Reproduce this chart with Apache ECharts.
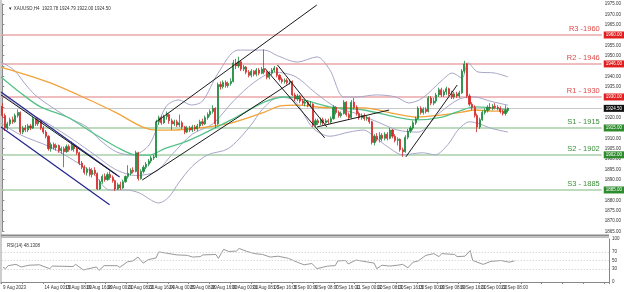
<!DOCTYPE html>
<html><head><meta charset="utf-8">
<script src="https://cdn.jsdelivr.net/npm/echarts@6/dist/echarts.min.js"></script>
<style>html,body{margin:0;padding:0;background:#fff}#c{width:624px;height:292px}</style>
</head><body><div id="c"></div>
<script>
const N_CATS = 234;
const tickLabels = ["9 Aug 2023","10 Aug 16:00","14 Aug 00:00","15 Aug 08:00","16 Aug 16:00","18 Aug 00:00","21 Aug 08:00","22 Aug 16:00","24 Aug 00:00","25 Aug 08:00","28 Aug 16:00","30 Aug 00:00","31 Aug 08:00","1 Sep 16:00","5 Sep 00:00","6 Sep 08:00","7 Sep 16:00","11 Sep 00:00","12 Sep 08:00","13 Sep 16:00","15 Sep 00:00","18 Sep 08:00","19 Sep 16:00","21 Sep 00:00","22 Sep 08:00"];
// [open, close, low, high]
const candles = [
[1925.5,1921,1920,1927],[1921,1915,1913.5,1922],[1915,1917,1914,1918],[1917,1919,1916,1920],[1919,1918,1917,1920.5],
[1918,1921,1917.5,1922],[1921,1922.5,1920,1924],[1922.5,1913,1912,1923],[1913,1915,1912,1916],[1915,1914,1913,1916.5],
[1914,1916,1913,1917],[1916,1915,1914,1917],[1915,1919.5,1914.5,1920.5],[1919.5,1917,1916,1920],[1917,1918.5,1916,1919.5],
[1918.5,1915,1914,1919],[1915,1913,1912,1916],[1913,1911,1910,1914],[1911,1905,1904,1911.5],[1905,1907,1903.5,1908],
[1907,1905.5,1904.5,1908],[1905.5,1906.5,1904,1907.5],[1906.5,1904,1903,1907],[1904,1905,1902.5,1906],[1905,1903.5,1896,1906],
[1903.5,1906,1903,1907],[1906,1904.5,1903.5,1907],[1904.5,1906.5,1904,1908.5],[1906.5,1905,1903.5,1907.5],[1905,1903,1902,1906],
[1903,1898,1897,1903.5],[1898,1896,1895,1899],[1896,1893.5,1892.5,1897],[1893.5,1895,1892,1896],[1895,1892.5,1891.5,1896],
[1892.5,1894.5,1891,1895.5],[1894.5,1893,1892,1896],[1893,1885.5,1885,1893.5],[1885.5,1889,1885,1890],[1889,1891.5,1888,1892.5],
[1891.5,1890,1889,1893],[1890,1892.5,1889.5,1893.5],[1892.5,1891,1890,1894],[1891,1889.5,1888.5,1892],[1889.5,1885.5,1884.5,1890],
[1885.5,1887.5,1885,1888.5],[1887.5,1886,1885,1889],[1886,1889,1885.5,1890],[1889,1891.5,1888.5,1892],[1891.5,1893,1890.5,1897],
[1893,1894.5,1892,1895.5],[1894.5,1894,1893,1896],[1894,1903,1893.5,1904],[1903,1890.5,1889.5,1903.5],[1890.5,1894,1890,1895],
[1894,1896,1893,1897],[1896,1897.5,1895,1898.5],[1897.5,1899,1896.5,1900],[1899,1900.5,1898,1901.5],[1900.5,1901,1899.5,1902],
[1901,1918,1900.5,1919],[1918,1920,1916.5,1921],[1920,1917.5,1916.5,1921],[1917.5,1920.5,1917,1921.5],[1920.5,1921.5,1919,1923],
[1921.5,1918.5,1917,1922],[1918.5,1917,1914,1919.5],[1917,1918,1916,1919],[1918,1916.5,1915.5,1919],[1916.5,1917.5,1915.5,1921.5],
[1917.5,1915.5,1914.5,1918.5],[1915.5,1913,1912,1916],[1913,1915,1912.5,1916],[1915,1914,1913,1916],[1914,1915.5,1913,1916.5],
[1915.5,1914.5,1913.5,1916.5],[1914.5,1916,1913.5,1917],[1916,1918,1915,1919],[1918,1917,1916,1919.5],[1917,1920,1916.5,1921],
[1920,1921.5,1919,1922.5],[1921.5,1923,1920.5,1924],[1923,1924.5,1922,1926],[1924.5,1917,1915,1925],[1917,1936,1916.5,1937],
[1936,1935,1933.5,1937.5],[1935,1937,1934,1938],[1937,1935.5,1934.5,1938],[1935.5,1936.5,1934.5,1937.5],[1936.5,1937.5,1935.5,1939],
[1937.5,1946.5,1937,1948],[1946.5,1945,1943.5,1948.5],[1945,1947,1944,1949.5],[1947,1943.5,1942.5,1947.5],[1943.5,1944.5,1942.5,1945.5],
[1944.5,1942,1941,1945],[1942,1940.5,1939.5,1943],[1940.5,1942.5,1939.5,1943.5],[1942.5,1941,1940,1943],[1941,1943,1940,1944],
[1943,1941.5,1940.5,1944],[1941.5,1943.5,1941,1944.5],[1943.5,1942,1941,1953],[1942,1939.5,1938.5,1942.5],[1939.5,1941.5,1938.5,1942.5],
[1941.5,1943,1940.5,1944],[1943,1944,1942,1945],[1944,1940.5,1939.5,1944.5],[1940.5,1938.5,1937.5,1941],[1938.5,1937.5,1936.5,1939.5],
[1937.5,1938,1936.5,1939],[1938,1937,1936,1939],[1937,1937.5,1936,1938.5],[1937.5,1931,1930.5,1938],[1931,1929,1928,1932],
[1929,1930.5,1928,1931.5],[1930.5,1928,1927,1931],[1928,1927,1926,1929],[1927,1927.5,1925.5,1928.5],[1927.5,1926,1925,1928.5],
[1926,1926.5,1925,1928],[1926.5,1916.5,1915.5,1927],[1916.5,1918.5,1915.5,1919.5],[1918.5,1917.5,1916.5,1919.5],[1917.5,1919,1916.5,1920],
[1919,1917.5,1916.5,1920],[1917.5,1918.5,1917,1919.5],[1918.5,1918,1917,1919.5],[1918,1919.5,1917,1920.5],[1919.5,1925,1919,1926],
[1925,1922.5,1921.5,1925.5],[1922.5,1921,1920,1923.5],[1921,1922,1920,1923],[1922,1927.5,1921.5,1928.5],[1927.5,1921.5,1920.5,1928],
[1921.5,1920,1919,1922.5],[1920,1927.5,1919.5,1928.5],[1927.5,1925,1924,1929.5],[1925,1922,1921,1926],[1922,1920,1919,1923],
[1920,1921,1919,1922],[1921,1919.5,1918.5,1922],[1919.5,1920,1918.5,1921],[1920,1918,1917,1920.5],[1918,1908,1907,1918.5],
[1908,1911,1906.5,1912],[1911,1909.5,1908.5,1912.5],[1909.5,1911.5,1908,1913],[1911.5,1910,1908.5,1912.5],[1910,1912,1909,1913],
[1912,1910,1909,1913],[1910,1914,1909.5,1915],[1914,1911,1910,1914.5],[1911,1909,1908,1912],[1909,1909.5,1906.5,1910.5],
[1909.5,1904.5,1903.5,1910],[1904.5,1903.5,1901,1905.5],[1903.5,1910.5,1903,1911.5],[1910.5,1913.5,1909.5,1914.5],[1913.5,1915,1912.5,1916],
[1915,1917.5,1914,1918.5],[1917.5,1919.5,1916.5,1920.5],[1919.5,1924.5,1919,1925.5],[1924.5,1922.5,1921.5,1925.5],[1922.5,1924,1921.5,1925],
[1924,1923,1922,1925],[1923,1929.5,1922.5,1930.5],[1929.5,1927,1926,1930.5],[1927,1928,1926,1929.5],[1928,1931,1927,1932],
[1931,1933.5,1930,1934.5],[1933.5,1931,1930,1934.5],[1931,1932.5,1930,1933.5],[1932.5,1934,1931,1935],[1934,1931.5,1930.5,1934.5],
[1931.5,1930,1929,1933],[1930,1931.5,1929,1932.5],[1931.5,1930.5,1929.5,1932.5],[1930.5,1932,1929.5,1933],[1932,1942.5,1931.5,1943.5],
[1942.5,1946,1941.5,1947.5],[1946,1930.5,1929.5,1946.5],[1930.5,1926.5,1925.5,1931.5],[1926.5,1925,1923.5,1927.5],[1925,1921,1920,1926],
[1921,1915.5,1913,1922],[1915.5,1919,1914.5,1920],[1919,1922.5,1918.5,1923.5],[1922.5,1923.5,1921.5,1924.5],[1923.5,1925,1922.5,1926],
[1925,1924.5,1923.5,1927],[1924.5,1925.5,1923.5,1926.5],[1925.5,1925,1924,1927],[1925,1924.5,1923.5,1926],[1924.5,1923,1922,1925.5],
[1923,1922,1921,1924],[1922,1923.5,1921,1926],[1923.5,1924.5,1922.5,1925]
];
// indicator lines: [bar index, price]
const maOrange = [[-0.5,1944.5],[7.2,1941.6],[18.7,1936.8],[31.4,1930],[44.5,1922.3],[54.5,1915.5],[59.9,1914],[66,1914],[76.4,1915],[89.1,1917.4],[102.2,1922.7],[108.3,1925.7],[114.9,1926.1],[127.6,1924.7],[140.7,1924.7],[153.3,1921.8],[161,1920.3],[171.4,1921.3],[179.1,1922.7],[184.1,1923.7],[190.7,1923.2],[197,1923.2]];
const maGreen = [[-0.5,1939.7],[7.2,1931.9],[14.9,1925.2],[25.3,1920.3],[35.3,1912.6],[44.5,1905.8],[52.2,1901.9],[57.2,1901.9],[63.7,1905.3],[69.9,1907.7],[76.4,1911.1],[89.1,1918.9],[102.2,1927.6],[109.9,1930],[114.9,1929.5],[127.6,1925.2],[140.7,1923.7],[153.3,1920.3],[161,1918.9],[171.4,1920.3],[179.1,1923.7],[184.1,1925.2],[190.7,1924.7],[197,1923.7]];
const bbUpper = [[-0.5,1946.9],[4.5,1943.1],[9.9,1934.8],[13.7,1930],[25.3,1920.3],[33,1915.5],[38,1909.2],[44.5,1903.4],[50.7,1901.9],[57.2,1906.8],[63.7,1925.2],[68.7,1928.6],[73.7,1926.1],[78,1928],[84.1,1941.6],[91.8,1952.7],[102.2,1952.7],[107.2,1950],[114.9,1946.9],[122.6,1949.4],[127.6,1943.1],[133,1930],[138,1930],[145.7,1931],[153.3,1930],[158.4,1927.1],[163.7,1929.5],[171.4,1938.2],[175.3,1941.6],[179.1,1939.2],[181.4,1946.5],[185.3,1942.1],[191.8,1941.6],[197,1939.7]];
const bbMiddle = [[-0.5,1932],[8,1924],[18,1917],[28,1909],[36,1902],[44,1895],[52,1892],[60,1894],[66,1902],[74,1912],[82,1917],[90,1928],[98,1937],[106,1942],[114,1940],[122,1932],[130,1925],[138,1922],[146,1918],[154,1914],[162,1913],[170,1922],[178,1929],[184,1930],[190,1928],[197,1926]];
const bbLower = [[-0.5,1917.4],[7.2,1911.6],[18.7,1905.8],[27.6,1899.5],[35.3,1893.2],[41.8,1885],[48.3,1885],[53.3,1883.6],[61,1878.7],[64.9,1881.6],[68.7,1888.4],[73.7,1896.1],[80,1902],[88,1905],[96,1915],[102,1925],[108,1930],[114,1928],[121,1915],[127.6,1911],[135,1913],[140.7,1914],[145.7,1910],[150,1906],[156,1902],[163.7,1903],[168.6,1902],[173.6,1907],[177.5,1914],[182,1918],[186,1917],[190,1915],[197,1913]];
const rsi = [[0,34],[1,31],[2,38],[5,41],[7,35],[10,39],[14,40],[18,31],[19,37],[27,36],[28,41],[31,28],[36,35],[37,27],[39,38],[44,38],[45,34],[48,47],[50,49],[52,58],[54,44],[56,52],[59,56],[60,70],[63,67],[67,63],[71,62],[73,58],[76,59],[77,63],[82,64],[83,55],[85,76],[87,71],[90,72],[91,78],[94,71],[97,66],[100,64],[103,58],[106,60],[110,55],[113,47],[116,40],[119,43],[121,31],[125,37],[128,38],[129,49],[132,50],[133,42],[136,51],[140,47],[143,44],[144,31],[146,39],[149,37],[152,39],[154,41],[156,33],[158,46],[160,49],[162,58],[163,62],[166,66],[168,59],[169,66],[174,64],[175,59],[178,60],[180,73],[181,50],[185,41],[188,48],[192,50],[195,46],[197,49]];
// drawn trend lines: pairs of [bar index, price]
const trendNavy = [[[-0.5,1932.4],[45.7,1891.3]],[[-0.5,1915.5],[41.8,1877.8]]];
const trendBlack = [[[-0.5,1931],[44.5,1892.3]],[[54.5,1889.8],[112.2,1936.8]],[[59.9,1917.9],[122.5,1974.5]],[[107.2,1945.5],[126.4,1915.5]],[[102.2,1944],[125.6,1910.2]],[[122.6,1915.5],[150.7,1923.7]],[[157.2,1901],[177.2,1935.8]]];
const levelNames = ["R3 -1960","R2 - 1946","R1 - 1930","S1 - 1915","S2 - 1902","S3 - 1885"];
const levelValues = [1960,1946,1930,1915,1902,1885];
const levelKinds = ["R","R","R","S","S","S"];
const lastPrice = 1924.5;
const rsiLevels = [70,50,30];

const cats = Array.from({length:N_CATS},(_,i)=>String(i));
const RED='#e04848', GREEN='#3b8f3b';
const markData = [];
levelValues.forEach((v,k)=>{
  const isR = levelKinds[k]==='R';
  markData.push({yAxis:v,lineStyle:{color:isR?'#eaa7a7':'#a9cfa9',width:1.6,type:'solid'},
    label:{show:true,position:'insideEndTop',formatter:levelNames[k],color:isR?RED:GREEN,fontSize:7.5,fontFamily:'Arial, Liberation Sans',distance:[2,2]}});
  markData.push({yAxis:v,lineStyle:{color:'rgba(0,0,0,0)',width:0},
    label:{show:true,position:'end',formatter:v.toFixed(2),color:'#fff',backgroundColor:isR?'#e02020':'#2e8b2e',fontSize:4.5,padding:[1,2],distance:2}});
});
markData.push({yAxis:lastPrice,lineStyle:{color:'#c9c9c9',width:1,type:'solid'},
  label:{show:true,position:'end',formatter:lastPrice.toFixed(2),color:'#fff',backgroundColor:'#111',fontSize:4.5,padding:[1,2],distance:2}});

const lineSeries = (data,color,width)=>({type:'line',xAxisIndex:1,yAxisIndex:0,data,symbol:'none',smooth:0.3,silent:true,lineStyle:{color,width},z:3,animation:false});
const series = [
  {type:'candlestick',xAxisIndex:0,yAxisIndex:0,data:candles,barWidth:'62%',z:5,
   itemStyle:{color:'#1c8a3c',color0:'#d42a2a',borderColor:'#1c8a3c',borderColor0:'#d42a2a',borderWidth:0.8},
   markLine:{symbol:'none',silent:true,animation:false,data:markData,z:1}},
  lineSeries(bbUpper,'#a6a6c8',1),
  lineSeries(bbMiddle,'#a6a6c8',1),
  lineSeries(bbLower,'#a6a6c8',1),
  lineSeries(maOrange,'#f2a33a',1.3),
  lineSeries(maGreen,'#56c28a',1.3),
];
trendNavy.forEach(t=>series.push({type:'line',xAxisIndex:1,yAxisIndex:0,data:t,symbol:'none',silent:true,lineStyle:{color:'#23238f',width:1.2},z:6,animation:false}));
trendBlack.forEach(t=>series.push({type:'line',xAxisIndex:1,yAxisIndex:0,data:t,symbol:'none',silent:true,lineStyle:{color:'#1a1a1a',width:1},z:6,animation:false}));
series.push({type:'line',xAxisIndex:2,yAxisIndex:1,data:rsi,symbol:'none',lineStyle:{color:'#999',width:1},animation:false,
  markLine:{symbol:'none',silent:true,animation:false,label:{show:false},lineStyle:{color:'#c8c8c8',type:[1,2],width:1},data:rsiLevels.map(v=>({yAxis:v}))}});

const chart = echarts.init(document.getElementById('c'),null,{renderer:'canvas'});
chart.setOption({
  animation:false,
  backgroundColor:'#fff',
  title:[{text:'▼ XAUUSD,H4  1923.78 1924.79 1922.00 1924.50',left:3,top:1,textStyle:{fontSize:4.5,color:'#333',fontWeight:'normal',fontFamily:'Arial'}},
         {text:'RSI(14) 48.1308',left:2,top:238,textStyle:{fontSize:4.5,color:'#333',fontWeight:'normal',fontFamily:'Arial'}}],
  grid:[{left:1,top:4,width:608,height:227.3,show:false},{left:1,top:239,width:608,height:43,show:false}],
  xAxis:[
    {type:'category',gridIndex:0,data:cats,boundaryGap:true,axisLine:{show:false},axisTick:{show:false},axisLabel:{show:false},splitLine:{show:false}},
    {type:'value',gridIndex:0,min:-0.5,max:N_CATS-0.5,show:false},
    {type:'category',gridIndex:1,data:cats,boundaryGap:true,axisLine:{show:true,lineStyle:{color:'#888'}},
     axisTick:{show:true,interval:7,length:2,lineStyle:{color:'#888'}},
     axisLabel:{show:true,interval:7,showMinLabel:true,fontSize:4.5,color:'#333',margin:3,fontFamily:'Arial',align:'left',
       formatter:(v,i)=>{const k=i/8;return (i%8===0&&k<tickLabels.length)?tickLabels[k]:'';}}}
  ],
  yAxis:[
    {type:'value',gridIndex:0,position:'right',min:1865,max:1975,interval:5,scale:true,
     axisLine:{show:true,lineStyle:{color:'#888'}},axisTick:{show:true,length:2,lineStyle:{color:'#888'}},
     axisLabel:{fontSize:4.5,color:'#333',margin:3,fontFamily:'Arial',formatter:v=>v.toFixed(2)},splitLine:{show:false}},
    {type:'value',gridIndex:1,position:'right',min:0,max:100,interval:10,
     axisLine:{show:true,lineStyle:{color:'#888'}},axisTick:{show:false},
     axisLabel:{fontSize:4.5,color:'#333',margin:3,formatter:v=>([0,30,50,70,100].includes(v)?String(v):'')},splitLine:{show:false}}
  ],
  graphic:[
    {type:'line',shape:{x1:1,y1:0,x2:1,y2:284},style:{stroke:'#9a9a9a',lineWidth:1},silent:true},
    {type:'line',shape:{x1:1,y1:235.5,x2:609,y2:235.5},style:{stroke:'#8a8a8a',lineWidth:2},silent:true},
    {type:'line',shape:{x1:1,y1:237.5,x2:609,y2:237.5},style:{stroke:'#bdbdbd',lineWidth:1},silent:true}
  ],
  series
});
</script>
</body></html>
